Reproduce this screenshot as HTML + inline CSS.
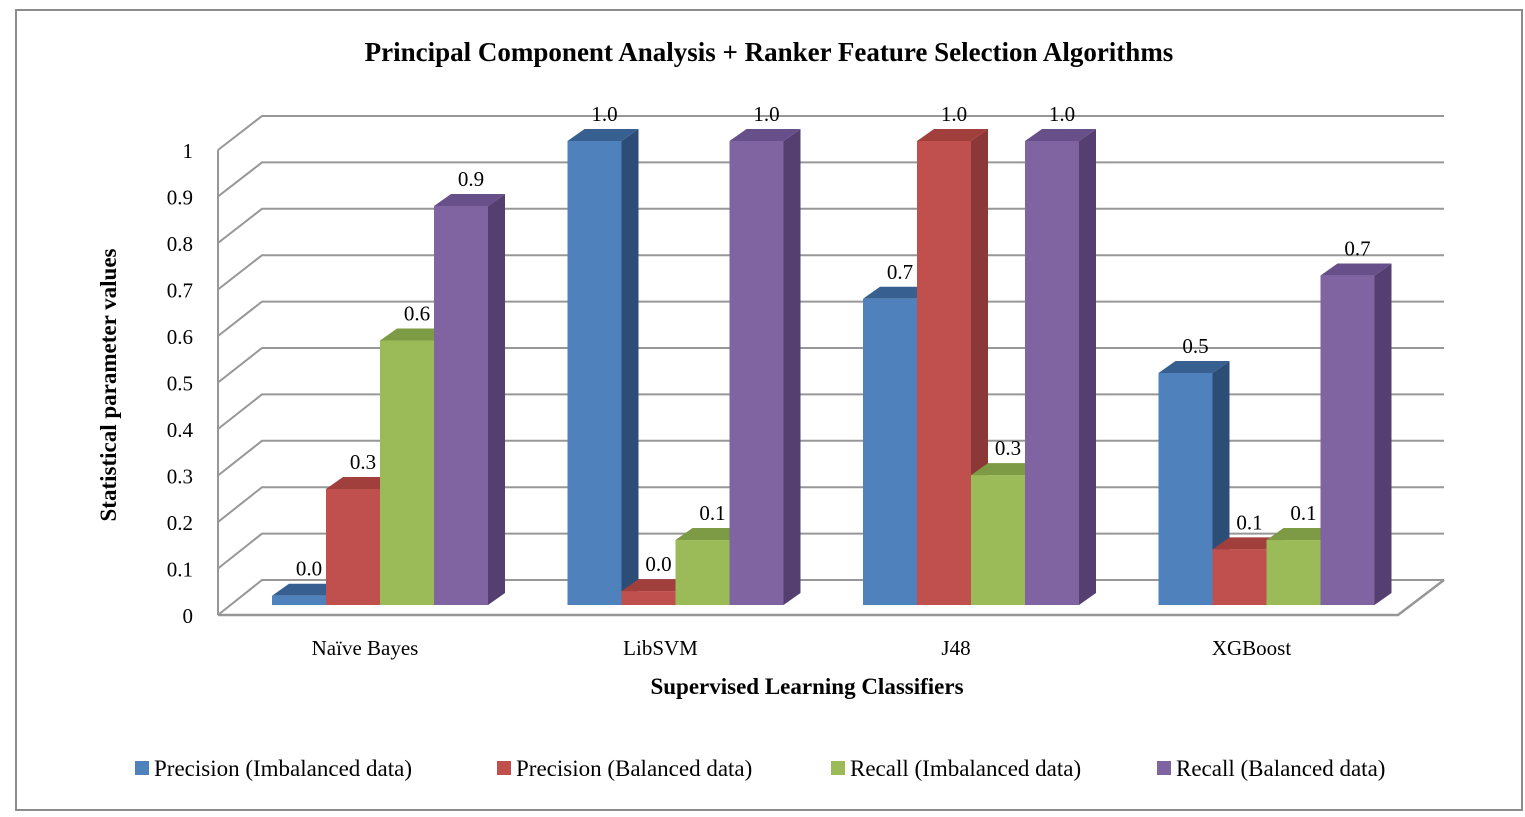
<!DOCTYPE html>
<html><head><meta charset="utf-8"><style>
body{margin:0;background:#fff}
svg{display:block;font-family:"Liberation Serif",serif}
</style></head><body>
<svg id="chart" width="1525" height="817">
<rect x="16" y="10" width="1506" height="800" fill="#fff" stroke="#8c8c8c" stroke-width="2"/>
<text x="769" y="61" text-anchor="middle" font-size="27" font-weight="bold">Principal Component Analysis + Ranker Feature Selection Algorithms</text>
<g id="grid"></g>
<g id="bars"></g>
<text transform="translate(116,385) rotate(-90)" text-anchor="middle" font-size="23" font-weight="bold">Statistical parameter values</text>
<text x="807" y="694" text-anchor="middle" font-size="23" font-weight="bold">Supervised Learning Classifiers</text>
<g id="legend"></g>
</svg>
<script>
const categories=["Naïve Bayes","LibSVM","J48","XGBoost"];
const seriesNames=["Precision (Imbalanced data)","Precision (Balanced data)","Recall (Imbalanced data)","Recall (Balanced data)"];
const precImb=[0.02,1.0,0.66,0.5];
const precBal=[0.25,0.03,1.0,0.12];
const recImb=[0.57,0.14,0.28,0.14];
const recBal=[0.86,1.0,1.0,0.71];
const labPrecImb=["0.0","1.0","0.7","0.5"];
const labPrecBal=["0.3","0.0","1.0","0.1"];
const labRecImb=["0.6","0.1","0.3","0.1"];
const labRecBal=["0.9","1.0","1.0","0.7"];
const yTicks=["0","0.1","0.2","0.3","0.4","0.5","0.6","0.7","0.8","0.9","1"];

const NS="http://www.w3.org/2000/svg";
function mk(tag,attrs,parent){const e=document.createElementNS(NS,tag);for(const k in attrs)e.setAttribute(k,attrs[k]);parent.appendChild(e);return e;}
const yFront=v=>615-v*465;   // front floor
const yBack=v=>580-v*464;    // back wall
const yBar=v=>605-v*464;     // bar front
const xGroup=i=>272+i*295.5;
const barW=54, dx=17, dy=12;

const grid=document.getElementById('grid');
yTicks.forEach((t,i)=>{
  const v=i/10;
  const l=mk('polyline',{points:`218,${yFront(v)} 262,${yBack(v)} 1444,${yBack(v)}`,fill:'none',stroke:'#979797','stroke-width':2},grid);
  
  
  const tx=mk('text',{x:193,y:yFront(v)+8,'text-anchor':'end','font-size':21},grid);
  tx.textContent=t;
  
  
});
mk('line',{x1:218,y1:615,x2:218,y2:yFront(1),stroke:'#979797','stroke-width':2},grid);
const fl=mk('polyline',{points:`218,615 1398,615 1444,580`,fill:'none',stroke:'#979797','stroke-width':2.5},grid);



const series=[precImb,precBal,recImb,recBal];
const labels=[labPrecImb,labPrecBal,labRecImb,labRecBal];
const colors=[["#4f81bd","#375f8f","#2c4d75"],["#c0504d","#a03f3c","#8c3836"],["#9bbb59","#7d9a45","#6f883e"],["#8064a2","#67508a","#553f70"]];
const bars=document.getElementById('bars');
categories.forEach((c,i)=>{
  series.forEach((s,j)=>{
    const x=xGroup(i)+j*barW, yt=yBar(s[i]), yb=605;
    const g=mk('g',{},bars);
    
    
    mk('polygon',{points:`${x+barW},${yb} ${x+barW+dx},${yb-dy} ${x+barW+dx},${yt-dy} ${x+barW},${yt}`,fill:colors[j][2]},g);
    mk('polygon',{points:`${x},${yt} ${x+dx},${yt-dy} ${x+barW+dx},${yt-dy} ${x+barW},${yt}`,fill:colors[j][1]},g);
    mk('rect',{x:x,y:yt,width:barW,height:yb-yt,fill:colors[j][0]},g);
    const t=mk('text',{x:x+barW/2+10,y:yt-20,'text-anchor':'middle','font-size':21},bars);
    t.textContent=labels[j][i];
    
    
  });
  const ct=mk('text',{x:xGroup(i)+93,y:655,'text-anchor':'middle','font-size':21},bars);
  ct.textContent=c;
  
  
});

const leg=document.getElementById('legend');
const lx=[135,497,831,1157];
seriesNames.forEach((n,j)=>{
  const g=mk('g',{},leg);
  
  
  mk('rect',{x:lx[j],y:761,width:14,height:14,fill:colors[j][0]},g);
  const t=mk('text',{x:lx[j]+19,y:776,'font-size':23},g);
  t.textContent=n;
});
</script>
</body></html>
